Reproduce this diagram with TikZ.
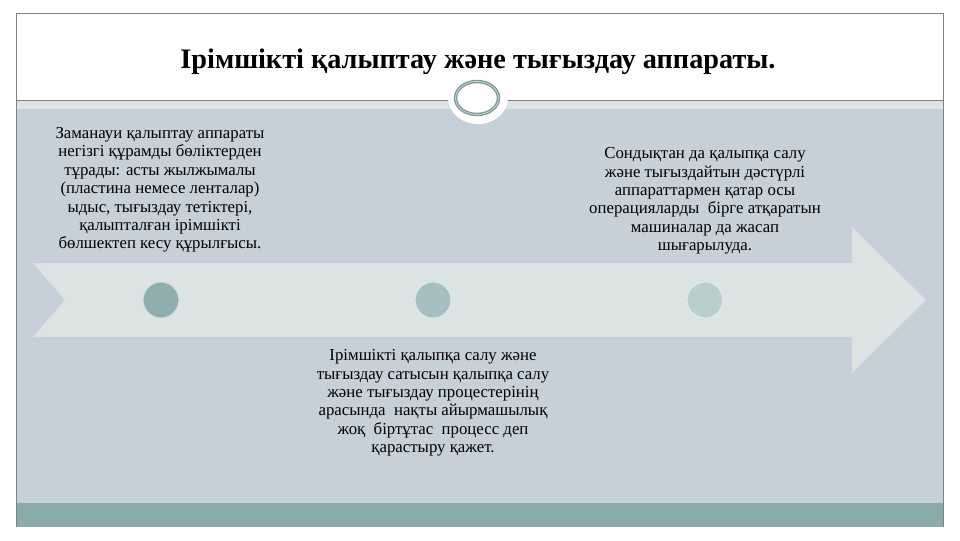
\documentclass[tikz,border=0pt]{standalone}
\usepackage{fontspec}
\setmainfont{Liberation Serif}
\usepackage{tikz}

\definecolor{bandgray}{HTML}{C6D0D8}
\definecolor{bandlight}{HTML}{DCE4E4}
\definecolor{arrowgray}{HTML}{DCE3E3}
\definecolor{tealbar}{HTML}{8AABAB}
\definecolor{dotdark}{HTML}{8FAEAE}
\definecolor{dotmid}{HTML}{A6BFC0}
\definecolor{dotlight}{HTML}{BACECE}
\definecolor{ringteal}{HTML}{7E9A99}
\definecolor{framegray}{HTML}{808080}

\tikzset{
  notetext/.style={align=center, text=black, font=\fontsize{12.6}{13.8}\selectfont},
  stagedot/.style={shape=circle, fill=#1, draw=white!60!#1, line width=0.8pt, minimum size=27pt, inner sep=0pt},
}

\begin{document}
\begin{tikzpicture}[x=0.75pt, y=-0.75pt]
    \useasboundingbox (0,0) rectangle (960,540);
    \fill[white] (0,0) rectangle (960,540);
    % slide background
    \fill[bandgray] (16,100) rectangle (943,503);
    \fill[bandlight] (16,100) rectangle (943,109);
    \fill[tealbar] (16,503) rectangle (943,527);
    \draw[framegray] (16,527) -- (16,13) -- (943,13) -- (943,527);
    \draw[framegray] (16,100) -- (943,100);
    % ornament on the title rule
    \fill[white] (478,98) ellipse [x radius=30, y radius=26];
    \draw[ringteal, line width=2.6pt] (477,98) ellipse [x radius=21.5, y radius=16.5];
    \draw[white!55!ringteal, line width=0.6pt] (477,98) ellipse [x radius=21.5, y radius=16.5];
    % big arrow
    \fill[arrowgray] (33,263) -- (852,263) -- (852,227) -- (926,300) -- (852,373)
        -- (852,337) -- (33,337) -- (65,300) -- cycle;
    \node[font=\bfseries\fontsize{21.2}{24}\selectfont] at (478,62) (title)
        {Ірімшікті қалыптау және тығыздау аппараты.};
    \node[stagedot=dotdark] at (161,300) (S1) {};
    \node[stagedot=dotmid] at (433,300) (S2) {};
    \node[stagedot=dotlight] at (705,300) (S3) {};
    \node[notetext] at (160,190) (N1) {Заманауи қалыптау аппараты\\негізгі құрамды бөліктерден\\тұрады: асты жылжымалы\\(пластина немесе ленталар)\\ыдыс, тығыздау тетіктері,\\қалыпталған ірімшікті\\бөлшектеп кесу құрылғысы.};
    \node[notetext] at (705,201) (N3) {Сондықтан да қалыпқа салу\\және тығыздайтын дәстүрлі\\аппараттармен қатар осы\\операцияларды\ \ бірге атқаратын\\машиналар да жасап\\шығарылуда.};
    \node[notetext] at (433,403) (N2) {Ірімшікті қалыпқа салу және\\тығыздау сатысын қалыпқа салу\\және тығыздау процестерінің\\арасында\ \ нақты айырмашылық\\жоқ\ \ біртұтас\ \ процесс деп\\қарастыру қажет.};
\end{tikzpicture}
\end{document}
